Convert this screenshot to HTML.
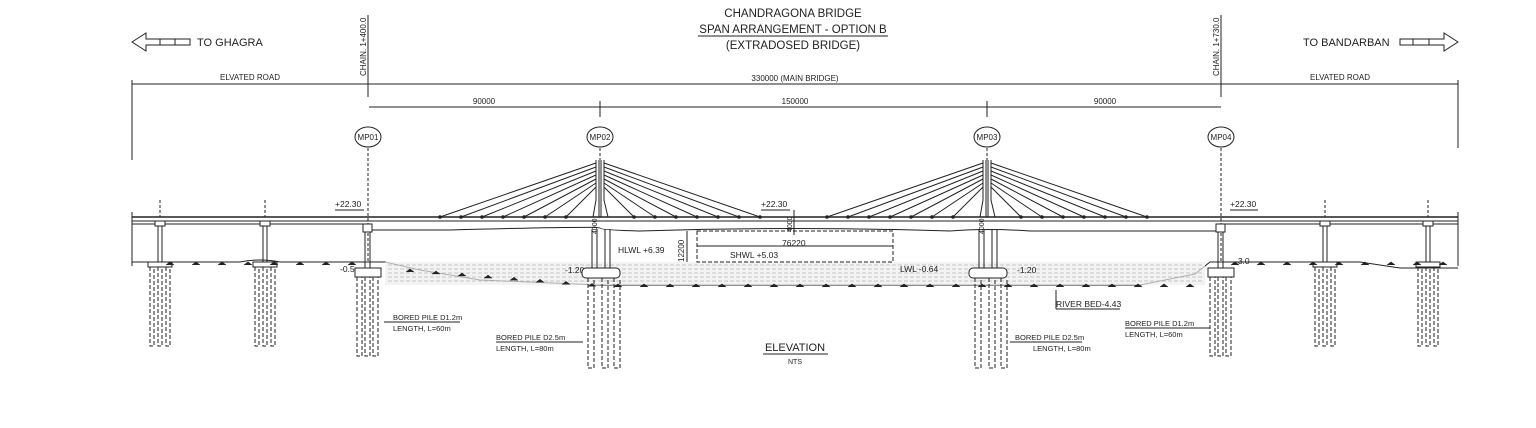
<!DOCTYPE html>
<html><head><meta charset="utf-8"><style>
html,body{margin:0;padding:0;background:#fff;width:1536px;height:428px;overflow:hidden}
svg{display:block}
text{font-family:"Liberation Sans",sans-serif;fill:#222}
</style></head><body>
<svg id="s" width="1536" height="428" viewBox="0 0 1536 428" xmlns="http://www.w3.org/2000/svg" stroke="#222" fill="none" stroke-width="1">
<g stroke="none" text-anchor="middle">
<text x="793" y="17" font-size="11.5">CHANDRAGONA BRIDGE</text>
<text x="793" y="33" font-size="11.5">SPAN ARRANGEMENT - OPTION B</text>
<text x="793" y="49" font-size="11.5">(EXTRADOSED BRIDGE)</text>
</g>
<line x1="698" y1="36" x2="888" y2="36"/>
<path d="M132 42 L146 33 V39 H190 V45 H146 V51 Z"/>
<line x1="160" y1="39" x2="160" y2="45"/><line x1="175" y1="39" x2="175" y2="45"/>
<text x="197" y="46" font-size="11" stroke="none">TO GHAGRA</text>
<path d="M1458 42 L1444 33 V39 H1400 V45 H1444 V51 Z"/>
<line x1="1413" y1="39" x2="1413" y2="45"/><line x1="1429" y1="39" x2="1429" y2="45"/>
<text x="1303" y="46" font-size="11" stroke="none">TO BANDARBAN</text>
<line x1="368" y1="15" x2="368" y2="97"/>
<line x1="1221" y1="15" x2="1221" y2="97"/>
<text transform="translate(366,76) rotate(-90)" font-size="8" stroke="none">CHAIN. 1+400.0</text>
<text transform="translate(1219,76) rotate(-90)" font-size="8" stroke="none">CHAIN. 1+730.0</text>
<line x1="132" y1="84" x2="1458" y2="84"/>
<line x1="132" y1="80" x2="132" y2="160"/><line x1="1458" y1="80" x2="1458" y2="148"/>
<line x1="369" y1="107" x2="1221" y2="107"/>
<g font-size="8" stroke="none" text-anchor="middle">
<text x="250" y="80">ELVATED ROAD</text>
<text x="795" y="81">330000 (MAIN BRIDGE)</text>
<text x="1340" y="80">ELVATED ROAD</text>
<text x="484" y="104">90000</text>
<text x="795" y="104">150000</text>
<text x="1105" y="104">90000</text>
</g>
<g stroke-dasharray="3,2">
<line x1="368" y1="148" x2="368" y2="262"/>
<line x1="1221" y1="148" x2="1221" y2="262"/>
<line x1="600" y1="148" x2="600" y2="160"/>
<line x1="987" y1="148" x2="987" y2="160"/>
</g>
<line x1="600" y1="101" x2="600" y2="117"/><line x1="987" y1="101" x2="987" y2="117"/>
<g fill="#fff">
<ellipse cx="368" cy="137" rx="13" ry="10"/><ellipse cx="600" cy="137" rx="13" ry="10"/>
<ellipse cx="987" cy="137" rx="13" ry="10"/><ellipse cx="1221" cy="137" rx="13" ry="10"/>
</g>
<g font-size="8" stroke="none" text-anchor="middle">
<text x="368" y="140">MP01</text><text x="600" y="140">MP02</text>
<text x="987" y="140">MP03</text><text x="1221" y="140">MP04</text>
</g>
<line x1="132" y1="217" x2="1458" y2="217" stroke-width="1.5"/>
<line x1="132" y1="221" x2="1458" y2="221"/>
<path d="M132 224 H368"/><path d="M1221 224 H1458"/>
<path d="M368 230 H450 Q600 226 600 228 Q600 230 640 231 Q795 226 950 231 Q987 228 1030 231 H1221"/>
<line x1="132" y1="212" x2="132" y2="266"/><line x1="1458" y1="212" x2="1458" y2="266"/>
<path d="M132 262 H240 Q260 258 280 262 H385 L420 270 L480 280 L600 285 L1140 285 L1195 274 L1210 262 H1360 L1400 268 H1458"/>
<rect x="385" y="262" width="820" height="23" fill="#eee" stroke="none" opacity="0.7"/>
<g id="water" stroke="#999" stroke-dasharray="4,2" stroke-width="0.6"></g>
<g stroke="none" font-size="8.5">
<text x="618" y="253">HLWL +6.39</text>
<text x="730" y="258">SHWL +5.03</text>
<text x="900" y="272">LWL -0.64</text>
<text x="1056" y="307">RIVER BED-4.43</text>
<text x="782" y="246">76220</text>
<text x="335" y="207">+22.30</text><text x="761" y="207">+22.30</text><text x="1230" y="207">+22.30</text>
<text x="340" y="272">-0.5</text><text x="565" y="273">-1.20</text><text x="1017" y="273">-1.20</text><text x="1235" y="264">-3.0</text>
<text x="393" y="320" font-size="7.5">BORED PILE D1.2m</text><text x="393" y="331" font-size="7.5">LENGTH, L=60m</text>
<text x="496" y="340" font-size="7.5">BORED PILE D2.5m</text><text x="496" y="351" font-size="7.5">LENGTH, L=80m</text>
<text x="1015" y="340" font-size="7.5">BORED PILE D2.5m</text><text x="1033" y="351" font-size="7.5">LENGTH, L=80m</text>
<text x="1125" y="326" font-size="7.5">BORED PILE D1.2m</text><text x="1125" y="337" font-size="7.5">LENGTH, L=60m</text>
<text x="795" y="351" font-size="11" text-anchor="middle">ELEVATION</text>
<text x="795" y="364" font-size="7" text-anchor="middle">NTS</text>
<text transform="translate(684,262) rotate(-90)" font-size="8">12200</text>
<text transform="translate(597,234) rotate(-90)" font-size="7">4000</text>
<text transform="translate(984,234) rotate(-90)" font-size="7">4000</text>
<text transform="translate(792,232) rotate(-90)" font-size="7">4000</text>
</g>
<line x1="335" y1="210" x2="364" y2="210"/><line x1="761" y1="210" x2="790" y2="210"/><line x1="1230" y1="210" x2="1258" y2="210"/>
<line x1="763" y1="354" x2="828" y2="354"/>
<line x1="1056" y1="309" x2="1120" y2="309"/><line x1="1056" y1="309" x2="1056" y2="290"/>
<line x1="393" y1="322" x2="460" y2="322"/><line x1="384" y1="322" x2="393" y2="322"/>
<line x1="496" y1="342" x2="583" y2="342"/><line x1="1010" y1="342" x2="1082" y2="342"/>
<line x1="1125" y1="328" x2="1210" y2="328"/>
<rect x="697" y="231" width="196" height="31" stroke-dasharray="4,2"/>
<line x1="697" y1="246" x2="893" y2="246"/>
<line x1="687" y1="231" x2="687" y2="262"/>
<line x1="794" y1="210" x2="794" y2="235"/>
<g id="gen"></g>
</svg>
<script>
var g=document.getElementById('gen'),NS='http://www.w3.org/2000/svg';
function el(t,a){var e=document.createElementNS(NS,t);for(var k in a)e.setAttribute(k,a[k]);g.appendChild(e);return e;}
function L(x1,y1,x2,y2,ex){var a={x1:x1,y1:y1,x2:x2,y2:y2};if(ex)for(var k in ex)a[k]=ex[k];return el('line',a);}
var w=document.getElementById('water');
for(var y=265;y<285;y+=4){var e=document.createElementNS(NS,'line');e.setAttribute('x1',388);e.setAttribute('x2',1203);e.setAttribute('y1',y);e.setAttribute('y2',y);w.appendChild(e);}
[600,987].forEach(function(px){
 el('path',{d:'M'+(px-4)+' 160 V200 L'+(px-7)+' 217 M'+(px+4)+' 160 V200 L'+(px+8)+' 217 M'+(px-1)+' 160 V217 M'+(px+1)+' 160 V217','stroke-width':1});
 for(var i=0;i<7;i++){var ay=163+i*4;
  var lx=px-160+i*21, rx=px+160-i*21;
  L(px-4,ay,lx,217);L(px+4,ay,rx,217);
  el('circle',{cx:lx,cy:217,r:1.3,fill:'#222'});el('circle',{cx:rx,cy:217,r:1.3,fill:'#222'});}
 L(px-8,229,px-8,268);L(px-3,229,px-3,268);L(px+5,229,px+5,268);L(px+10,229,px+10,268);
 el('rect',{x:px-18,y:268,width:38,height:10,rx:4,fill:'#fff'});
 [-12,2,14].forEach(function(o){el('path',{d:'M'+(px+o)+' 278 V368 H'+(px+o+6)+' V278','stroke-dasharray':'4,2'});});
});
[368,1221].forEach(function(px){
 el('rect',{x:px-5,y:224,width:9,height:8,fill:'#fff'});
 L(px-3,232,px-3,268);L(px+2,232,px+2,268);
 el('rect',{x:px-13,y:268,width:26,height:9,fill:'#fff'});
 [-11,-3,5].forEach(function(o){el('path',{d:'M'+(px+o)+' 277 V356 H'+(px+o+5)+' V277','stroke-dasharray':'4,2'});});
});
[160,265,1325,1428].forEach(function(px){
 L(px,200,px,217,{'stroke-dasharray':'3,2'});
 el('rect',{x:px-5,y:221,width:10,height:5,fill:'#fff'});
 L(px-2,226,px-2,262);L(px+2,226,px+2,262);
 el('rect',{x:px-12,y:262,width:24,height:5,fill:'#fff'});
 [-10,-2,6].forEach(function(o){el('path',{d:'M'+(px+o)+' 267 V346 H'+(px+o+4)+' V267','stroke-dasharray':'4,2'});});
});
function hatch(x,y){el('path',{d:'M'+(x-4)+' '+(y+2)+' L'+x+' '+(y-1)+' L'+(x+4)+' '+(y+2),fill:'#222','stroke-width':0.6});}
for(var x=170;x<370;x+=26)hatch(x,263);
for(var x=410;x<1200;x+=26)hatch(x,x<600?Math.min(285,270+(x-410)*0.08):285);
for(var x=1235;x<1450;x+=26)hatch(x,263);
</script>
</body></html>
